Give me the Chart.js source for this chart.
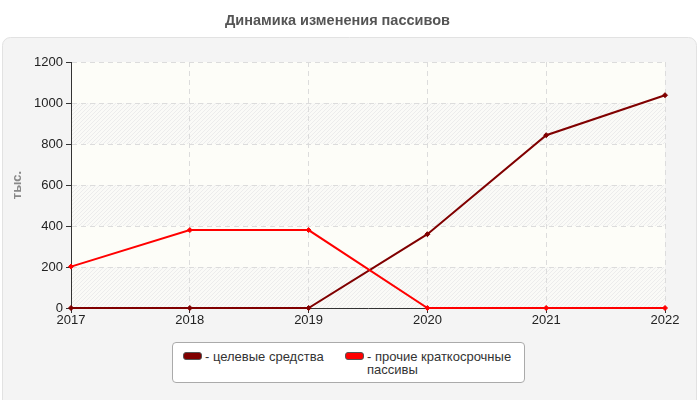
<!DOCTYPE html>
<html>
<head>
<meta charset="utf-8">
<script src="https://cdn.jsdelivr.net/npm/chart.js@4/dist/chart.umd.min.js"></script>
<style>
  html, body { margin: 0; padding: 0; background: #fff; }
  #wrap { position: relative; width: 700px; height: 400px; }
  #legend {
    position: absolute; left: 172px; top: 342px; width: 353px; height: 41px;
    background: #fff; border: 1px solid #aaa; border-radius: 4px; box-sizing: border-box;
    font: 13px "Liberation Sans", Arial, sans-serif; color: #333;
  }
  .item { position: absolute; top: 7px; line-height: 13px; }
  .sw { position: absolute; top: 2px; left: 0; width: 17px; height: 6px; border: 1px solid #555; border-radius: 3px; }
  .txt { position: absolute; left: 22px; top: 0; white-space: nowrap; }
</style>
</head>
<body>
<div id="wrap">
  <canvas id="grafico" width="700" height="400"></canvas>
  <div id="legend"></div>
</div>
<script>
// Динамика изменения пассивов, тыс.
const anios = ["2017", "2018", "2019", "2020", "2021", "2022"];
const celevye = [0, 0, 0, 360, 843, 1038];
const prochie = [202, 380, 380, 0, 0, 0];
const nombres = ["целевые средства", "прочие краткосрочные<br>пассивы"];
const colores = ["#800000", "#ff0000"];

// legenda en html (texto con salto de linea)
const legend = document.getElementById("legend");
const posX = [10, 172];
nombres.forEach((n, i) => {
  const d = document.createElement("div");
  d.className = "item";
  d.style.left = posX[i] + "px";
  d.innerHTML = `<span class="sw" style="background:${colores[i]}"></span><span class="txt">- ${n}</span>`;
  legend.appendChild(d);
});

// fondo: panel gris + bandas rayadas
const fondo = {
  id: "fondo",
  beforeDraw(chart) {
    const { ctx, chartArea: a, scales: { y } } = chart;
    ctx.save();
    ctx.fillStyle = "#fff";
    ctx.fillRect(0, 0, 700, 400);
    ctx.beginPath();
    ctx.roundRect(2.5, 37.5, 694, 400, 8);
    ctx.fillStyle = "#f4f4f4";
    ctx.fill();
    ctx.strokeStyle = "#e2e2e2";
    ctx.stroke();

    ctx.fillStyle = "#fdfdf8";
    ctx.fillRect(a.left, a.top, a.right - a.left, a.bottom - a.top);
    for (let v = 0; v < 1200; v += 400) {
      const y1 = y.getPixelForValue(v), y0 = y.getPixelForValue(v + 200);
      ctx.save();
      ctx.beginPath();
      ctx.rect(a.left, y0, a.right - a.left, y1 - y0);
      ctx.clip();
      ctx.fillStyle = "#fafaf7";
      ctx.fillRect(a.left, y0, a.right - a.left, y1 - y0);
      ctx.strokeStyle = "#ececec";
      ctx.lineWidth = 1;
      ctx.beginPath();
      for (let x = a.left - 60; x < a.right + 60; x += 4) {
        ctx.moveTo(x, y1);
        ctx.lineTo(x + (y1 - y0), y0);
      }
      ctx.stroke();
      ctx.restore();
    }
    ctx.restore();
  }
};

new Chart(document.getElementById("grafico"), {
  type: "line",
  data: {
    labels: anios,
    datasets: [
      { label: "целевые средства", data: celevye, borderColor: colores[0], backgroundColor: colores[0], order: 2 },
      { label: "прочие краткосрочные пассивы", data: prochie, borderColor: colores[1], backgroundColor: colores[1], order: 1 }
    ]
  },
  options: {
    responsive: false,
    animation: false,
    devicePixelRatio: 1,
    layout: { padding: { top: 0, right: 35, bottom: 62, left: 10 } },
    elements: {
      line: { borderWidth: 2, tension: 0 },
      point: { pointStyle: "rectRot", radius: 2.5, borderWidth: 1 }
    },
    datasets: { line: { clip: false } },
    plugins: {
      legend: { display: false },
      tooltip: { enabled: false },
      title: {
        display: true,
        text: "Динамика изменения пассивов",
        color: "#555",
        font: { family: "Liberation Sans", size: 14.5, weight: "bold" },
        padding: { top: 12, bottom: 32.6 }
      }
    },
    scales: {
      x: {
        offset: false,
        afterFit: s => { s.height = 30; },
        grid: { color: "#dcdcdc", tickColor: "#333", tickLength: 5, tickBorderDash: [] },
        border: { color: "#333", width: 1, dash: [5, 4] },
        ticks: { color: "#222", font: { family: "Liberation Sans", size: 13 }, padding: 0, maxRotation: 0 }
      },
      y: {
        min: 0, max: 1200,
        afterFit: s => { s.width = 61; },
        grid: { color: "#dcdcdc", tickColor: "#333", tickLength: 5, tickBorderDash: [] },
        border: { color: "#333", width: 1, dash: [5, 4] },
        ticks: { stepSize: 200, color: "#222", font: { family: "Liberation Sans", size: 13 }, padding: 3, callback: v => String(v) },
        title: {
          display: true, text: "тыс.", color: "#888",
          font: { family: "Liberation Sans", size: 13, weight: "bold" }, padding: { top: 0, bottom: 6 }
        }
      }
    }
  },
  plugins: [fondo]
});
</script>
</body>
</html>
